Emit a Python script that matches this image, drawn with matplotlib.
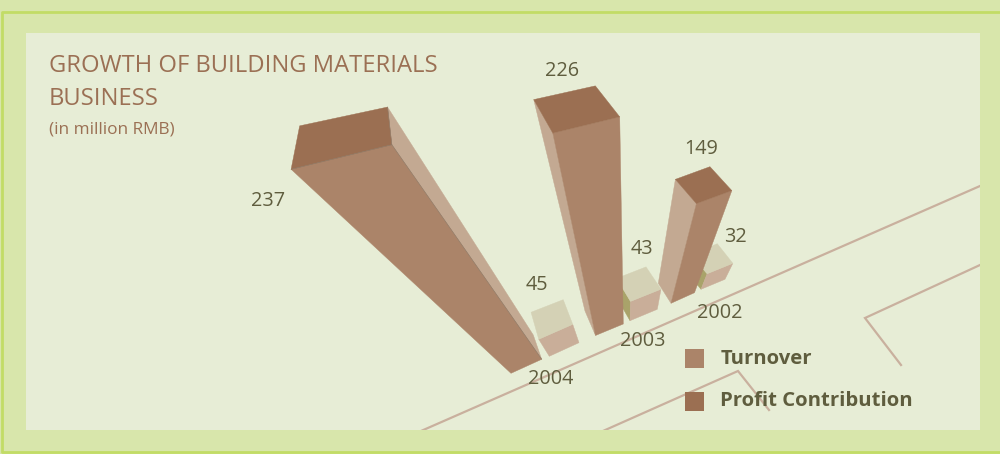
import numpy as np
import matplotlib
matplotlib.use("Agg")
import matplotlib.pyplot as plt
from matplotlib.patches import Rectangle

# Building materials business, in million RMB
years = ["2004", "2003", "2002"]
turnover = [237, 226, 149]
profit = [45, 43, 32]

# colours
OUTER = "#d8e6ab"
FRAME = "#c2dc66"
PANEL = "#e7edd6"
ROAD = "#c9b09e"
TEXT = "#5f5d3e"
TITLE = "#9b7054"
T_TOP = "#9b6f52"
T_FRONT = "#ab8469"
T_SIDE = "#c3a992"
P_TOP = "#d4d1b5"
P_FRONT = "#c9ae99"
P_SIDE = "#a9a36a"

# ground corners of each block: front-left, front-right, back-right, back-left
turnover_base = [
    [(511, 373.3), (541.7, 359.3), (533.3, 335), (504, 347.6)],
    [(595.5, 335.5), (623.3, 324), (612, 300), (585, 311)],
    [(671, 303.3), (694.5, 292.7), (681.6, 272.5), (658.3, 283.3)],
]
profit_base = [
    [(549.3, 356.3), (579, 342.7), (570.3, 320), (542, 331.6)],
    [(630, 320.7), (657.3, 309.3), (644, 288.4), (617.6, 299.2)],
    [(701, 289.3), (725, 279.3), (710.8, 260.4), (686.3, 271.2)],
]

# camera looks down at the scene, uprights meet at this point
VANISH = np.array([626.0, 480.0])


def lift(corners, value):
    # perspective projection of ground corners raised by value
    pts = np.array(corners, dtype=float) - VANISH
    rate = 0.003304 + 0.000005 * pts[:, 1]
    return VANISH + pts / (1 - value * rate)[:, None]


def block(corners, value, top_col, front_col, left_col, right_col, edge=None):
    low = np.array(corners, dtype=float)
    high = lift(corners, value)
    faces = [
        ([3, 0], left_col),
        ([1, 2], right_col),
        ([0, 1], front_col),
    ]
    for (a, b), col in faces:
        if col is None:
            continue
        poly = np.array([low[a], low[b], high[b], high[a]])
        ax.fill(poly[:, 0], poly[:, 1], color=col, lw=0.3, zorder=3)
    ax.fill(high[:, 0], high[:, 1], color=top_col, lw=0.3, zorder=3)
    if edge:
        for a, b in [(0, 1), (1, 2)]:
            ax.plot([high[a][0], high[b][0]], [high[a][1], high[b][1]],
                    color=edge, lw=0.4, zorder=3)
        ax.plot([high[1][0], low[1][0]], [high[1][1], low[1][1]],
                color=edge, lw=0.4, zorder=3)


fig = plt.figure(figsize=(10, 4.54), dpi=100, facecolor=OUTER)
ax = fig.add_axes([0, 0, 1, 1])
ax.set_xlim(0, 1000)
ax.set_ylim(454, 0)
ax.axis("off")
plt.rcParams["font.family"] = ["Open Sans", "DejaVu Sans"]

# frame and panel
ax.plot([1000, 2, 2, 1000], [11.7, 11.7, 451.5, 451.5], color=FRAME, lw=2, zorder=1)
panel = Rectangle((26, 33), 954, 397, facecolor=PANEL, edgecolor="none", zorder=1)
ax.add_patch(panel)

# road lines behind the blocks
road_x = [[421, 980], [603, 738, 769], [980, 865, 901]]
road_y = [[431, 186], [431, 371, 410], [265, 318, 365]]
for rx, ry in zip(road_x, road_y):
    line, = ax.plot(rx, ry, color=ROAD, lw=1.6, zorder=2, solid_joinstyle="miter")
    line.set_clip_path(panel)

# back to front so nearer blocks overlap
for i in [2, 1, 0]:
    side = None if i == 0 else P_SIDE
    block(profit_base[i], profit[i], P_TOP, P_FRONT, side, None)
    if i == 0:
        block(turnover_base[i], turnover[i], T_TOP, T_FRONT, None, T_SIDE, edge="#8d7a68")
    else:
        block(turnover_base[i], turnover[i], T_TOP, T_FRONT, T_SIDE, None)

# value labels
val_x = [268, 562, 701]
val_y = [201, 71.5, 149.5]
for x, y, v in zip(val_x, val_y, turnover):
    ax.text(x, y, str(v), color=TEXT, fontsize=14.3, ha="center", va="center", zorder=5)
pro_x = [537, 642, 735]
pro_y = [285.5, 248.5, 236.5]
for x, y, v in zip(pro_x, pro_y, profit):
    ax.text(x, y, str(v), color=TEXT, fontsize=14.3, ha="center", va="center", zorder=5)
year_x = [551, 643, 720]
year_y = [378.5, 341.5, 312.5]
for x, y, v in zip(year_x, year_y, years):
    ax.text(x, y, v, color=TEXT, fontsize=14.3, ha="center", va="center", zorder=5)

# title
ax.text(49, 66, "GROWTH OF BUILDING MATERIALS", color=TITLE, fontsize=17.1, va="center", zorder=5)
ax.text(49, 99, "BUSINESS", color=TITLE, fontsize=17.1, va="center", zorder=5)
ax.text(49, 129, "(in million RMB)", color=TITLE, fontsize=12.4, va="center", zorder=5)

# legend
ax.add_patch(Rectangle((685, 349), 19, 19, facecolor=T_FRONT, edgecolor="none", zorder=5))
ax.add_patch(Rectangle((685, 392), 19, 19, facecolor=T_TOP, edgecolor="none", zorder=5))
ax.text(720.5, 358.5, "Turnover", color=TEXT, fontsize=14.6, fontweight="bold", va="center", zorder=5)
ax.text(720.5, 400.5, "Profit Contribution", color=TEXT, fontsize=14.6, fontweight="bold", va="center", zorder=5)

fig.savefig("out.png", dpi=100, facecolor=OUTER)
